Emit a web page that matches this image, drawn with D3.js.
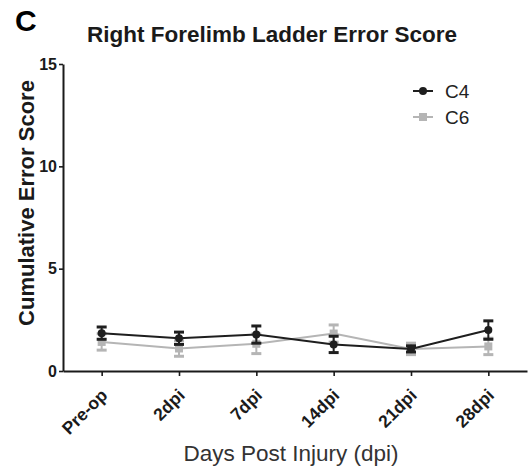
<!DOCTYPE html>
<html>
<head>
<script src="https://d3js.org/d3.v7.min.js"></script>
<style>
  body { margin: 0; background: #fff; font-family: "Liberation Sans", Arial, sans-serif; }
</style>
</head>
<body>
<script>
// data
const categories = ["Pre-op", "2dpi", "7dpi", "14dpi", "21dpi", "28dpi"];
const c4Mean = [1.85, 1.6, 1.78, 1.3, 1.08, 2.0];
const c4Err  = [0.3, 0.3, 0.42, 0.4, 0.15, 0.45];
const c6Mean = [1.42, 1.1, 1.33, 1.83, 1.08, 1.2];
const c6Err  = [0.4, 0.38, 0.48, 0.42, 0.28, 0.4];
const yTicks = [0, 5, 10, 15];

const width = 532, height = 475;
const svg = d3.select("body").append("svg")
    .attr("width", width).attr("height", height);

const x = d3.scalePoint().domain(categories).range([63, 527]).padding(0.5);
const y = d3.scaleLinear().domain([0, 15]).range([371, 64]);

// panel letter and title
svg.append("text").attr("x", 15).attr("y", 31)
    .style("font-size", "30px").style("font-weight", "bold").text("C");
svg.append("text").attr("x", 272).attr("y", 42).attr("text-anchor", "middle")
    .style("font-size", "22.5px").style("font-weight", "bold").attr("fill", "#1a1a1a")
    .text("Right Forelimb Ladder Error Score");

// axes
const yAxis = svg.append("g").attr("transform", "translate(63,0)")
    .call(d3.axisLeft(y).tickValues(yTicks).tickSize(4).tickSizeOuter(0));
const xAxis = svg.append("g").attr("transform", "translate(0,371)")
    .call(d3.axisBottom(x).tickSize(5).tickSizeOuter(0));
[yAxis, xAxis].forEach(a => {
    a.select(".domain").attr("stroke", "#1a1a1a").attr("stroke-width", 2);
    a.selectAll(".tick line").attr("stroke", "#1a1a1a").attr("stroke-width", 1.6);
});
yAxis.selectAll(".tick text").attr("x", -6)
    .style("font-size", "16px").style("font-family", "Liberation Sans, Arial, sans-serif")
    .style("font-weight", "bold").attr("fill", "#1a1a1a");
xAxis.selectAll(".tick text")
    .style("font-size", "17.5px").style("font-family", "Liberation Sans, Arial, sans-serif")
    .style("font-weight", "bold").attr("fill", "#1a1a1a")
    .attr("text-anchor", "end").attr("x", 0).attr("y", 0).attr("dy", "0.35em")
    .attr("transform", "translate(2,21) rotate(-45)");

// axis titles
svg.append("text").attr("transform", "translate(34,203) rotate(-90)")
    .attr("text-anchor", "middle")
    .style("font-size", "22px").style("font-weight", "bold").attr("fill", "#1a1a1a")
    .text("Cumulative Error Score");
svg.append("text").attr("x", 291).attr("y", 461).attr("text-anchor", "middle")
    .style("font-size", "22.5px").attr("fill", "#333")
    .text("Days Post Injury (dpi)");

// series
const series = [
    { name: "C4", mean: c4Mean, err: c4Err, color: "#1e1e1e", shape: "circle" },
    { name: "C6", mean: c6Mean, err: c6Err, color: "#b5b5b5", shape: "square" }
];

function drawSeries(s) {
    const g = svg.append("g");
    const pts = categories.map((c, i) => ({ c, m: s.mean[i], e: s.err[i] }));
    g.append("path").datum(pts)
        .attr("d", d3.line().x(d => x(d.c)).y(d => y(d.m)))
        .attr("fill", "none").attr("stroke", s.color).attr("stroke-width", 2);
    const eb = g.selectAll("g.eb").data(pts).enter().append("g");
    eb.append("line")
        .attr("x1", d => x(d.c)).attr("x2", d => x(d.c))
        .attr("y1", d => y(d.m - d.e)).attr("y2", d => y(d.m + d.e))
        .attr("stroke", s.color).attr("stroke-width", 2);
    [-1, 1].forEach(sign => {
        eb.append("line")
            .attr("x1", d => x(d.c) - 5).attr("x2", d => x(d.c) + 5)
            .attr("y1", d => y(d.m + sign * d.e)).attr("y2", d => y(d.m + sign * d.e))
            .attr("stroke", s.color).attr("stroke-width", 3);
    });
    drawMarker(eb, s, d => x(d.c), d => y(d.m));
}

function drawMarker(sel, s, fx, fy) {
    if (s.shape === "circle") {
        sel.append("circle").attr("cx", fx).attr("cy", fy).attr("r", 4).attr("fill", s.color);
    } else {
        sel.append("rect").attr("x", d => fx(d) - 4).attr("y", d => fy(d) - 4)
            .attr("width", 8).attr("height", 8).attr("fill", s.color);
    }
}

// C6 first so C4 sits on top
drawSeries(series[1]);
drawSeries(series[0]);

// legend
series.forEach((s, i) => {
    const ly = 91 + i * 26;
    const lg = svg.append("g");
    lg.append("line").attr("x1", 413).attr("x2", 433).attr("y1", ly).attr("y2", ly)
        .attr("stroke", s.color).attr("stroke-width", 2);
    drawMarker(lg.datum({}), s, () => 423, () => ly);
    lg.append("text").attr("x", 445).attr("y", ly + 7)
        .style("font-size", "19px").attr("fill", "#222").text(s.name);
});
</script>
</body>
</html>
